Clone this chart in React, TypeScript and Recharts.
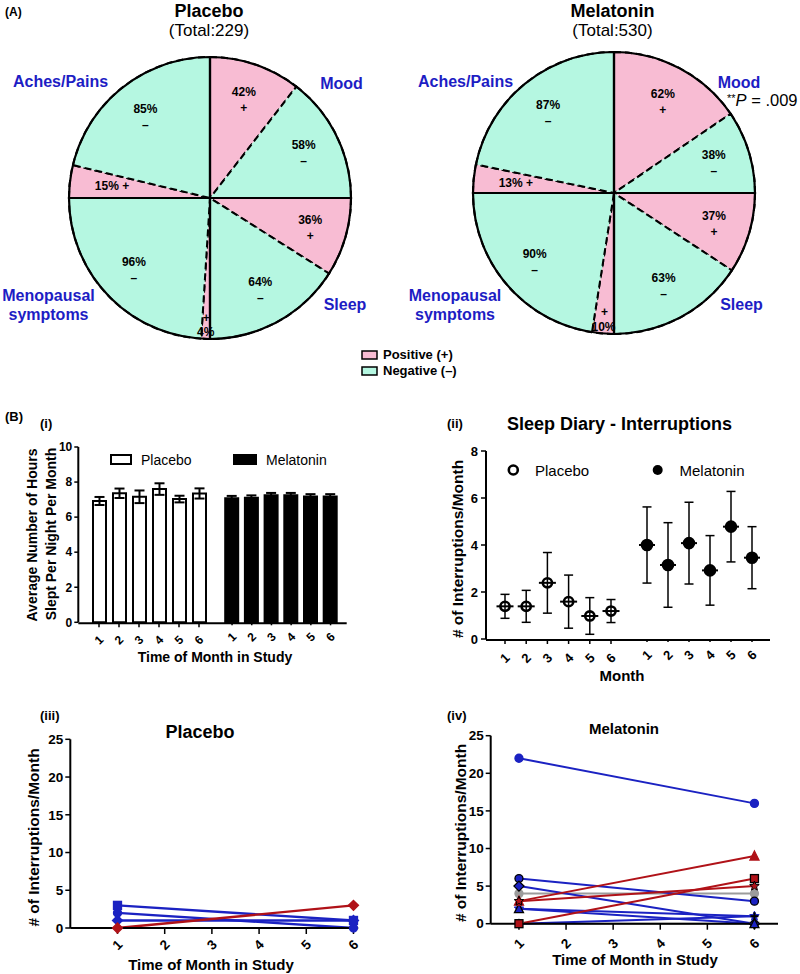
import React from "react";
import {
  PieChart,
  Pie,
  Cell,
  BarChart,
  Bar,
  ComposedChart,
  LineChart,
  Line,
  XAxis,
  YAxis,
  ErrorBar,
} from "recharts";

const FONT = '"Liberation Sans", Arial, Helvetica, sans-serif';
const PINK = "#f8bcd3";
const GREEN = "#b5f7e1";
const LABEL_BLUE = "#1d1dc4";
const BLUE = "#1b22c2";
const RED = "#b01218";
const GREY = "#9c9c9c";

// (A) percent positive per category, clockwise from 12 o'clock
const CATEGORIES = ["Mood", "Sleep", "Menopausal symptoms", "Aches/Pains"];
const PLACEBO_POSITIVE = [42, 36, 4, 15];
const MELATONIN_POSITIVE = [62, 37, 10, 13];

// (B)(i) hours slept
const MONTHS = ["1", "2", "3", "4", "5", "6"];
const PLACEBO_HOURS = [6.92, 7.36, 7.16, 7.6, 7.03, 7.35];
const PLACEBO_HOURS_ERR = [0.23, 0.27, 0.36, 0.33, 0.19, 0.29];
const MELATONIN_HOURS = [7.08, 7.1, 7.25, 7.25, 7.17, 7.18];
const MELATONIN_HOURS_ERR = [0.13, 0.14, 0.13, 0.13, 0.14, 0.13];

// (B)(ii) interruptions, mean and error
const PLACEBO_INTERRUPTIONS = [1.39, 1.39, 2.39, 1.59, 0.98, 1.19];
const PLACEBO_INTERRUPTIONS_ERR = [0.51, 0.68, 1.29, 1.13, 0.78, 0.49];
const MELATONIN_INTERRUPTIONS = [4.0, 3.15, 4.08, 2.92, 4.78, 3.46];
const MELATONIN_INTERRUPTIONS_ERR = [1.62, 1.8, 1.74, 1.48, 1.5, 1.32];

// (B)(iii)/(iv) individual subjects, month 1 -> month 6
const STUDY_MONTHS = [1, 6];
const TICK_MONTHS = [1, 2, 3, 4, 5, 6];
const PLACEBO_MONTH1 = [3, 2, 1, 0];
const PLACEBO_MONTH6 = [1, 0, 1, 3];
const PLACEBO_COLORS = [BLUE, BLUE, BLUE, RED];
const PLACEBO_MARKERS = ["square", "circle", "diamond", "diamond"];
const MELATONIN_MONTH1 = [0, 4, 22, 6, 5, 2, 2, 0, 3, 0, 3];
const MELATONIN_MONTH6 = [0, 4, 16, 3, 0, 1, 0, 1, 9, 6, 5];
const MELATONIN_COLORS = [GREY, GREY, BLUE, BLUE, BLUE, BLUE, BLUE, BLUE, RED, RED, RED];
const MELATONIN_MARKERS = ["star", "circle", "circle", "circle", "diamond", "star", "triangle", "cross", "triangle", "square", "star"];
const MELATONIN_EDGES = [GREY, GREY, BLUE, "#000", "#000", BLUE, "#000", "#000", RED, "#000", "#000"];

const RADIAN = Math.PI / 180;

const buildSlices = (positive: number[]) =>
  CATEGORIES.flatMap((c, i) => [
    { name: c, value: positive[i], sign: "+", positive: true },
    { name: c, value: 100 - positive[i], sign: "–", positive: false },
  ]);

const makePieLabel = (slices: any[]) => (props: any) => {
  const { cx, cy, midAngle, outerRadius, index } = props;
  const s = slices[index];
  const at = (f: number) => ({
    x: cx + outerRadius * f * Math.cos(-midAngle * RADIAN),
    y: cy + outerRadius * f * Math.sin(-midAngle * RADIAN),
  });
  const txt = { fontSize: 12, fontWeight: 700, fill: "#000", textAnchor: "middle" as const, dominantBaseline: "central" as const };
  if (s.value < 12) {
    const a = at(0.85);
    const b = at(0.95);
    return (
      <g>
        <text x={a.x} y={a.y} {...txt}>{s.sign}</text>
        <text x={b.x} y={b.y} {...txt}>{s.value}%</text>
      </g>
    );
  }
  if (s.value < 20) {
    const p = at(0.7);
    return <text x={p.x} y={p.y} {...txt}>{`${s.value}%  ${s.sign}`}</text>;
  }
  const p = at(0.74);
  return (
    <g>
      <text x={p.x} y={p.y - 7} {...txt}>{s.value}%</text>
      <text x={p.x} y={p.y + 9} {...txt}>{s.sign}</text>
    </g>
  );
};

function SymptomPie({ positive, left, top }: { positive: number[]; left: number; top: number }) {
  const slices = buildSlices(positive);
  const quadrants = CATEGORIES.map((c) => ({ name: c, value: 1 }));
  return (
    <div style={{ position: "absolute", left, top }}>
      <PieChart width={300} height={300} margin={{ top: 0, right: 0, bottom: 0, left: 0 }}>
        <Pie
          data={slices}
          dataKey="value"
          cx={150}
          cy={150}
          outerRadius={141}
          startAngle={90}
          endAngle={-270}
          isAnimationActive={false}
          labelLine={false}
          label={makePieLabel(slices)}
        >
          {slices.map((s, i) => (
            <Cell key={i} fill={s.positive ? PINK : GREEN} stroke="#000" strokeWidth={2} strokeDasharray="7 4" />
          ))}
        </Pie>
        <Pie
          data={quadrants}
          dataKey="value"
          cx={150}
          cy={150}
          outerRadius={141}
          startAngle={90}
          endAngle={-270}
          isAnimationActive={false}
        >
          {quadrants.map((q, i) => (
            <Cell key={i} fill="none" stroke="#000" strokeWidth={2.2} />
          ))}
        </Pie>
      </PieChart>
    </div>
  );
}

const RotTick = (props: any) => {
  const { x, y, payload, dy, size } = props;
  const ty = y + dy;
  return (
    <text
      x={x}
      y={ty}
      transform={`rotate(-45 ${x} ${ty})`}
      textAnchor="middle"
      dominantBaseline="central"
      fontSize={size}
      fontWeight={700}
      fill="#000"
    >
      {payload.value}
    </text>
  );
};

function Marker({ cx, cy, kind, fill, stroke, r = 4 }: any) {
  if (cx == null || cy == null) return <g />;
  const sw = 1.3;
  if (kind === "square")
    return <rect x={cx - r} y={cy - r} width={2 * r} height={2 * r} fill={fill} stroke={stroke} strokeWidth={sw} />;
  if (kind === "diamond")
    return (
      <polygon
        points={`${cx},${cy - r - 1} ${cx + r + 1},${cy} ${cx},${cy + r + 1} ${cx - r - 1},${cy}`}
        fill={fill}
        stroke={stroke}
        strokeWidth={sw}
      />
    );
  if (kind === "triangle")
    return (
      <polygon
        points={`${cx},${cy - r - 1} ${cx + r + 0.5},${cy + r} ${cx - r - 0.5},${cy + r}`}
        fill={fill}
        stroke={stroke}
        strokeWidth={sw}
      />
    );
  if (kind === "star") {
    const pts: string[] = [];
    for (let k = 0; k < 10; k++) {
      const rr = k % 2 === 0 ? r + 1 : (r + 1) * 0.45;
      const a = (-90 + k * 36) * RADIAN;
      pts.push(`${cx + rr * Math.cos(a)},${cy + rr * Math.sin(a)}`);
    }
    return <polygon points={pts.join(" ")} fill={fill} stroke={stroke} strokeWidth={1} />;
  }
  if (kind === "cross")
    return (
      <g stroke={stroke} strokeWidth={2}>
        <line x1={cx - r} y1={cy} x2={cx + r} y2={cy} />
        <line x1={cx} y1={cy - r} x2={cx} y2={cy + r} />
      </g>
    );
  return <circle cx={cx} cy={cy} r={r} fill={fill} stroke={stroke} strokeWidth={sw} />;
}

function MeanDot({ cx, cy, open }: any) {
  if (cx == null || cy == null) return <g />;
  return (
    <g>
      <circle cx={cx} cy={cy} r={open ? 4.6 : 5} fill={open ? "none" : "#000"} stroke="#000" strokeWidth={2.6} />
      <line x1={cx - (open ? 8.5 : 8)} y1={cy} x2={cx + (open ? 8.5 : 8)} y2={cy} stroke="#000" strokeWidth={2} />
    </g>
  );
}

const subjectRows = (m1: number[], m6: number[]) =>
  STUDY_MONTHS.map((month, r) => {
    const row: any = { month };
    (r === 0 ? m1 : m6).forEach((v, i) => (row[`s${i}`] = v));
    return row;
  });

const axisLine = { stroke: "#000", strokeWidth: 2 };
const tickLine = { stroke: "#000", strokeWidth: 1.5 };

function HoursChart() {
  const data = MONTHS.map((m, i) => ({
    month: m,
    placebo: PLACEBO_HOURS[i],
    placeboErr: PLACEBO_HOURS_ERR[i],
    melatonin: MELATONIN_HOURS[i],
    melatoninErr: MELATONIN_HOURS_ERR[i],
  }));
  return (
    <div style={{ position: "absolute", left: 0, top: 430 }}>
      <BarChart width={360} height={240} data={data} margin={{ top: 17, right: 13.3, bottom: 45.7, left: 38.3 }}>
        <XAxis
          xAxisId="p"
          dataKey="month"
          height={1}
          padding={{ left: 10.7, right: 137.7 }}
          interval={0}
          tickSize={4}
          tickMargin={2}
          axisLine={axisLine}
          tickLine={tickLine}
          tick={(p: any) => <RotTick {...p} dy={10.7} size={12} />}
        />
        <XAxis
          xAxisId="m"
          dataKey="month"
          height={1}
          padding={{ left: 143.9, right: 6.3 }}
          interval={0}
          tickSize={3}
          tickMargin={2}
          axisLine={false}
          tickLine={tickLine}
          tick={(p: any) => <RotTick {...p} dy={9.7} size={12} />}
        />
        <YAxis
          domain={[0, 10]}
          ticks={[0, 2, 4, 6, 8, 10]}
          width={40}
          tickSize={4}
          tickMargin={2}
          axisLine={axisLine}
          tickLine={tickLine}
          tick={{ fontSize: 12, fontWeight: 700, fill: "#000" }}
        />
        <Bar xAxisId="p" dataKey="placebo" fill="#fff" stroke="#000" strokeWidth={2} barSize={13} isAnimationActive={false}>
          <ErrorBar dataKey="placeboErr" width={5} stroke="#000" strokeWidth={2} direction="y" />
        </Bar>
        <Bar xAxisId="m" dataKey="melatonin" fill="#000" stroke="#000" strokeWidth={2} barSize={13} isAnimationActive={false}>
          <ErrorBar dataKey="melatoninErr" width={5} stroke="#000" strokeWidth={2} direction="y" />
        </Bar>
      </BarChart>
    </div>
  );
}

function InterruptionsChart() {
  const data = MONTHS.map((m, i) => ({
    month: m,
    placebo: PLACEBO_INTERRUPTIONS[i],
    placeboErr: PLACEBO_INTERRUPTIONS_ERR[i],
    melatonin: MELATONIN_INTERRUPTIONS[i],
    melatoninErr: MELATONIN_INTERRUPTIONS_ERR[i],
  }));
  return (
    <div style={{ position: "absolute", left: 430, top: 440 }}>
      <ComposedChart width={360} height={240} data={data} margin={{ top: 11, right: 20, bottom: 39, left: 26 }}>
        <XAxis
          xAxisId="p"
          dataKey="month"
          height={1}
          padding={{ left: 19, right: 159 }}
          interval={0}
          tickSize={4}
          tickMargin={2}
          axisLine={axisLine}
          tickLine={tickLine}
          tick={(p: any) => <RotTick {...p} dy={12} size={13} />}
        />
        <XAxis
          xAxisId="m"
          dataKey="month"
          height={1}
          padding={{ left: 161, right: 18 }}
          interval={0}
          tickSize={3}
          tickMargin={2}
          axisLine={false}
          tickLine={tickLine}
          tick={(p: any) => <RotTick {...p} dy={11} size={13} />}
        />
        <YAxis
          domain={[0, 8]}
          ticks={[0, 2, 4, 6, 8]}
          width={30}
          tickSize={5}
          tickMargin={3}
          axisLine={axisLine}
          tickLine={tickLine}
          tick={{ fontSize: 13, fontWeight: 700, fill: "#000" }}
        />
        <Line
          xAxisId="p"
          dataKey="placebo"
          stroke="none"
          dot={(p: any) => <MeanDot key={`p${p.index}`} {...p} open />}
          activeDot={false}
          isAnimationActive={false}
        >
          <ErrorBar dataKey="placeboErr" width={4.5} stroke="#000" strokeWidth={1.5} direction="y" />
        </Line>
        <Line
          xAxisId="m"
          dataKey="melatonin"
          stroke="none"
          dot={(p: any) => <MeanDot key={`m${p.index}`} {...p} />}
          activeDot={false}
          isAnimationActive={false}
        >
          <ErrorBar dataKey="melatoninErr" width={4.5} stroke="#000" strokeWidth={1.5} direction="y" />
        </Line>
      </ComposedChart>
    </div>
  );
}

function SubjectsChart({
  m1,
  m6,
  colors,
  markers,
  edges,
  left,
  top,
  width,
  margin,
  domain,
  tickDy,
  strokeWidth,
}: any) {
  const data = subjectRows(m1, m6);
  return (
    <div style={{ position: "absolute", left, top }}>
      <LineChart width={width} height={240} data={data} margin={margin}>
        <XAxis
          type="number"
          dataKey="month"
          domain={domain}
          ticks={TICK_MONTHS}
          height={1}
          interval={0}
          tickSize={6}
          tickMargin={2}
          axisLine={axisLine}
          tickLine={tickLine}
          tick={(p: any) => <RotTick {...p} dy={tickDy} size={13.5} />}
        />
        <YAxis
          domain={[0, 25]}
          ticks={[0, 5, 10, 15, 20, 25]}
          width={30}
          tickSize={5}
          tickMargin={2}
          axisLine={axisLine}
          tickLine={tickLine}
          tick={{ fontSize: 13.5, fontWeight: 700, fill: "#000" }}
        />
        {m1.map((_: number, i: number) => (
          <Line
            key={i}
            dataKey={`s${i}`}
            stroke={colors[i]}
            strokeWidth={strokeWidth}
            dot={(p: any) => (
              <Marker
                key={`d${i}-${p.index}`}
                cx={p.cx}
                cy={p.cy}
                kind={markers[i]}
                fill={colors[i]}
                stroke={edges ? edges[i] : colors[i]}
                r={4}
              />
            )}
            activeDot={false}
            isAnimationActive={false}
          />
        ))}
      </LineChart>
    </div>
  );
}

const T = ({ x, y, size, bold, color = "#000", anchor = "middle", rotate, children, italic }: any) => (
  <text
    x={rotate ? 0 : x}
    y={rotate ? 0 : y}
    transform={rotate ? `translate(${x} ${y}) rotate(${rotate})` : undefined}
    fontSize={size}
    fontWeight={bold ? 700 : 400}
    fontStyle={italic ? "italic" : undefined}
    fill={color}
    textAnchor={anchor}
  >
    {children}
  </text>
);

function Annotations() {
  return (
    <svg width={800} height={974} style={{ position: "absolute", left: 0, top: 0, pointerEvents: "none" }}>
      <g fontFamily={FONT}>
        <T x={5} y={16} size={12} bold anchor="start">(A)</T>
        <T x={209} y={16.5} size={18} bold>Placebo</T>
        <T x={209} y={35.5} size={17}>(Total:229)</T>
        <T x={612.5} y={16.5} size={18} bold>Melatonin</T>
        <T x={612.5} y={35.5} size={17}>(Total:530)</T>

        <T x={60.5} y={87} size={16} bold color={LABEL_BLUE}>Aches/Pains</T>
        <T x={341.5} y={88.5} size={16} bold color={LABEL_BLUE}>Mood</T>
        <T x={345} y={309.5} size={16} bold color={LABEL_BLUE}>Sleep</T>
        <T x={48.5} y={300.5} size={16} bold color={LABEL_BLUE}>Menopausal</T>
        <T x={48.5} y={320} size={16} bold color={LABEL_BLUE}>symptoms</T>

        <T x={465.5} y={87} size={16} bold color={LABEL_BLUE}>Aches/Pains</T>
        <T x={739} y={88} size={16} bold color={LABEL_BLUE}>Mood</T>
        <T x={741.5} y={309.5} size={16} bold color={LABEL_BLUE}>Sleep</T>
        <T x={455} y={300.5} size={16} bold color={LABEL_BLUE}>Menopausal</T>
        <T x={455} y={320} size={16} bold color={LABEL_BLUE}>symptoms</T>
        <text x={727} y={105.5} fontSize={16.5} fill="#000">
          <tspan fontSize={11} dy={-4}>**</tspan>
          <tspan dy={4} fontStyle="italic">P</tspan>
          <tspan> = .009</tspan>
        </text>

        <rect x={362} y={351} width={15} height={8} fill={PINK} stroke="#000" strokeWidth={1.5} />
        <T x={383} y={359} size={13} bold anchor="start">Positive (+)</T>
        <rect x={362} y={367} width={15} height={8} fill={GREEN} stroke="#000" strokeWidth={1.5} />
        <T x={383} y={375} size={13} bold anchor="start">Negative (–)</T>

        <T x={5} y={421} size={13} bold anchor="start">(B)</T>
        <T x={40} y={428} size={13} bold anchor="start">(i)</T>
        <T x={37} y={535} size={14} bold rotate={-90}>Average Number of Hours</T>
        <T x={56} y={534} size={14} bold rotate={-90}>Slept Per Night Per Month</T>
        <rect x={111} y={455} width={20} height={9} fill="#fff" stroke="#000" strokeWidth={2} />
        <T x={141} y={464.5} size={14} anchor="start">Placebo</T>
        <rect x={234} y={455} width={22} height={9} fill="#000" stroke="#000" strokeWidth={2} />
        <T x={266} y={464.5} size={14} anchor="start">Melatonin</T>
        <T x={215} y={662} size={14} bold>Time of Month in Study</T>

        <T x={447} y={428} size={13} bold anchor="start">(ii)</T>
        <T x={619.5} y={429.5} size={18} bold>Sleep Diary - Interruptions</T>
        <T x={463} y={549} size={15.5} bold rotate={-90}># of Interruptions/Month</T>
        <circle cx={513.3} cy={470} r={4.5} fill="#fff" stroke="#000" strokeWidth={2.6} />
        <T x={535} y={475.5} size={15} anchor="start">Placebo</T>
        <circle cx={657.7} cy={470} r={5} fill="#000" />
        <T x={679.5} y={475.5} size={15} anchor="start">Melatonin</T>
        <T x={622} y={680.5} size={15} bold>Month</T>

        <T x={40} y={720} size={13} bold anchor="start">(iii)</T>
        <T x={200} y={738} size={18} bold>Placebo</T>
        <T x={39} y={837.5} size={15.5} bold rotate={-90}># of Interruptions/Month</T>
        <T x={211} y={970} size={15} bold>Time of Month in Study</T>

        <T x={447} y={720} size={13} bold anchor="start">(iv)</T>
        <T x={624} y={734} size={15} bold>Melatonin</T>
        <T x={466} y={833} size={15.5} bold rotate={-90}># of Interruptions/Month</T>
        <T x={635} y={965} size={15} bold>Time of Month in Study</T>
      </g>
    </svg>
  );
}

export default function App() {
  return (
    <div
      style={{
        position: "absolute",
        left: 0,
        top: 0,
        width: 800,
        height: 974,
        background: "#fff",
        fontFamily: FONT,
        overflow: "hidden",
      }}
    >
      <SymptomPie positive={PLACEBO_POSITIVE} left={60} top={48} />
      <SymptomPie positive={MELATONIN_POSITIVE} left={464} top={43} />
      <HoursChart />
      <InterruptionsChart />
      <SubjectsChart
        m1={PLACEBO_MONTH1}
        m6={PLACEBO_MONTH6}
        colors={PLACEBO_COLORS}
        markers={PLACEBO_MARKERS}
        left={0}
        top={720}
        width={380}
        margin={{ top: 19.3, right: 21.8, bottom: 31, left: 40.3 }}
        domain={[0, 6.1]}
        tickDy={9}
        strokeWidth={2.4}
      />
      <SubjectsChart
        m1={MELATONIN_MONTH1}
        m6={MELATONIN_MONTH6}
        colors={MELATONIN_COLORS}
        markers={MELATONIN_MARKERS}
        edges={MELATONIN_EDGES}
        left={430}
        top={720}
        width={370}
        margin={{ top: 15.7, right: 22, bottom: 35.3, left: 30.7 }}
        domain={[0.4, 6.5]}
        tickDy={12}
        strokeWidth={2}
      />
      <Annotations />
    </div>
  );
}
